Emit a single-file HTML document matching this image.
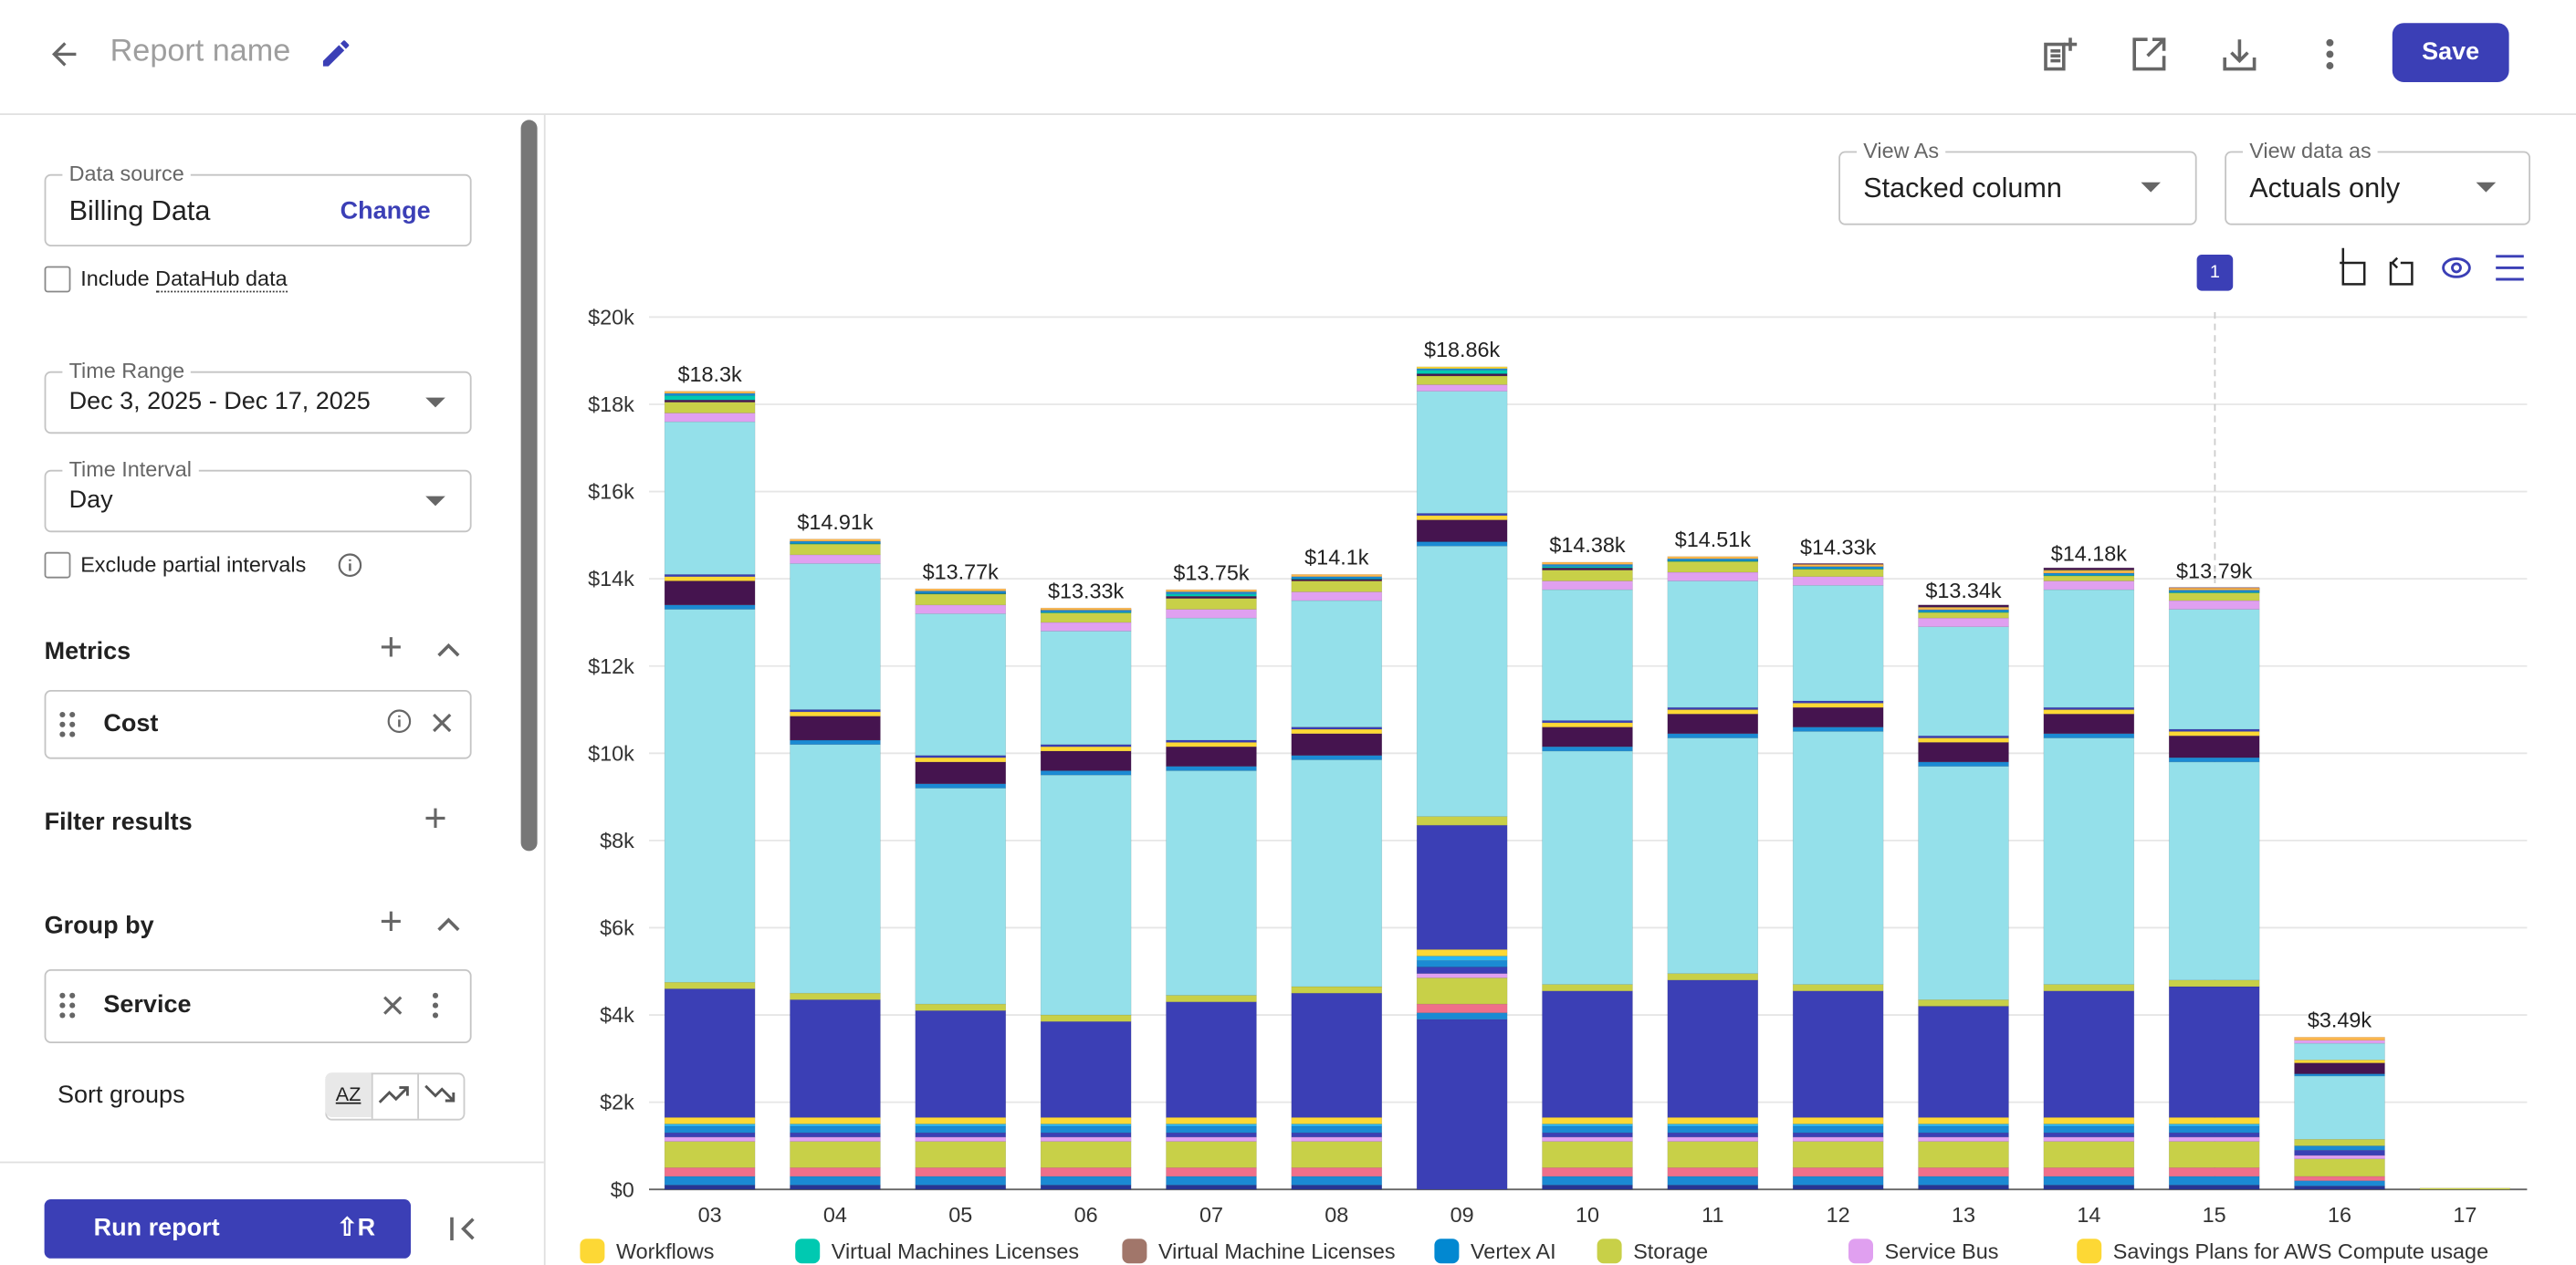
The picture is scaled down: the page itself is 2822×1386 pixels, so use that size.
<!DOCTYPE html>
<html><head><meta charset="utf-8">
<style>
html,body{margin:0;padding:0;background:#fff;}
body{width:2822px;height:1386px;overflow:hidden;font-family:"Liberation Sans",Arial,sans-serif;color:#212121;}
#w{position:absolute;left:0;top:0;width:1568px;height:770px;transform:scale(1.8);transform-origin:0 0;}
.a{position:absolute;}
.fld{position:absolute;border:1px solid #c4c4c4;border-radius:4px;}
.lbl{position:absolute;top:-9px;left:10px;background:#fff;padding:0 4px;font-size:13px;color:#666;}
.val{position:absolute;font-size:17px;color:#212121;}
.tri{position:absolute;width:0;height:0;border-left:6px solid transparent;border-right:6px solid transparent;border-top:6px solid #666;}
.cb{position:absolute;width:14px;height:14px;border:1.5px solid #888;border-radius:2px;}
.h{position:absolute;font-size:15px;font-weight:bold;color:#212121;}
.ico{position:absolute;color:#666;font-size:20px;line-height:20px;}
</style></head><body><div id="w">
<div class="a" style="left:0;top:69px;width:1568px;height:1px;background:#e0e0e0"></div>
<svg class="a" style="left:28px;top:22px" width="22" height="22" viewBox="0 0 24 24"><path d="M20 11H7.8l5.6-5.6L12 4l-8 8 8 8 1.4-1.4L7.8 13H20z" fill="#666"/></svg>
<div class="a" style="left:67px;top:21px;font-size:19px;color:#9e9e9e">Report name</div>
<svg class="a" style="left:194px;top:22px" width="21" height="21" viewBox="0 0 24 24"><path d="M3 17.25V21h3.75L17.8 9.94l-3.75-3.75zM20.7 7.04a1 1 0 000-1.41l-2.34-2.34a1 1 0 00-1.41 0l-1.83 1.83 3.75 3.75z" fill="#3b3fb6"/></svg>
<svg class="a" style="left:1241px;top:21px" width="24" height="24" viewBox="0 0 24 24"><path d="M4 6h11v15H4z" fill="none" stroke="#666" stroke-width="2"/><path d="M7 10h6M7 13h6M7 16h6M19 2v8M15 6h8" stroke="#666" stroke-width="2"/></svg>
<svg class="a" style="left:1296px;top:21px" width="24" height="24" viewBox="0 0 24 24"><path d="M11 3H3v18h18v-8M14 3h7v7M21 3l-10 10" fill="none" stroke="#666" stroke-width="2"/></svg>
<svg class="a" style="left:1351px;top:21px" width="24" height="24" viewBox="0 0 24 24"><path d="M3 14v7h18v-7M12 3v13M7 11l5 5 5-5" fill="none" stroke="#666" stroke-width="2"/></svg>
<svg class="a" style="left:1408px;top:21px" width="20" height="24" viewBox="0 0 20 24"><circle cx="10" cy="5" r="2.2" fill="#666"/><circle cx="10" cy="12" r="2.2" fill="#666"/><circle cx="10" cy="19" r="2.2" fill="#666"/></svg>
<div class="a" style="left:1456px;top:14px;width:71px;height:36px;background:#3b3fb6;border-radius:7px;color:#fff;font-size:15px;font-weight:bold;text-align:center;line-height:36px">Save</div>
<div class="a" style="left:331px;top:70px;width:1px;height:700px;background:#e0e0e0"></div>
<div class="a" style="left:317px;top:73px;width:10px;height:445px;background:#777;border-radius:5px"></div>
<div class="fld" style="left:27px;top:106px;width:258px;height:42px"><div class="lbl">Data source</div><div class="val" style="left:14px;top:12px">Billing Data</div><div class="val" style="left:179px;top:13px;font-size:15px;color:#3b3fb6;font-weight:bold">Change</div></div>
<div class="cb" style="left:27px;top:162px"></div>
<div class="a" style="left:49px;top:162px;font-size:13px">Include <span style="border-bottom:1px dotted #333">DataHub data</span></div>
<div class="fld" style="left:27px;top:226px;width:258px;height:36px"><div class="lbl">Time Range</div><div class="val" style="left:14px;top:9px;font-size:15px">Dec 3, 2025 - Dec 17, 2025</div><div class="tri" style="left:231px;top:15px"></div></div>
<div class="fld" style="left:27px;top:286px;width:258px;height:36px"><div class="lbl">Time Interval</div><div class="val" style="left:14px;top:9px;font-size:15px">Day</div><div class="tri" style="left:231px;top:15px"></div></div>
<div class="cb" style="left:27px;top:336px"></div>
<div class="a" style="left:49px;top:336px;font-size:13px">Exclude partial intervals</div>
<svg class="a" style="left:205px;top:336px" width="16" height="16" viewBox="0 0 16 16"><circle cx="8" cy="8" r="6.5" fill="none" stroke="#666" stroke-width="1.2"/><path d="M8 7v4.5M8 4.5v1" stroke="#666" stroke-width="1.4"/></svg>
<div class="h" style="left:27px;top:388px">Metrics</div>
<div class="ico" style="left:231px;top:385px;font-size:24px">+</div>
<svg class="a" style="left:265px;top:389px" width="16" height="14"><path d="M2 10l6-6 6 6" fill="none" stroke="#666" stroke-width="2"/></svg>
<div class="fld" style="left:27px;top:420px;width:258px;height:40px"></div>
<svg class="a" style="left:35px;top:432px" width="12" height="18"><g fill="#666"><circle cx="3" cy="3" r="1.7"/><circle cx="9" cy="3" r="1.7"/><circle cx="3" cy="9" r="1.7"/><circle cx="9" cy="9" r="1.7"/><circle cx="3" cy="15" r="1.7"/><circle cx="9" cy="15" r="1.7"/></g></svg>
<div class="h" style="left:63px;top:432px">Cost</div>
<svg class="a" style="left:235px;top:431px" width="16" height="16" viewBox="0 0 16 16"><circle cx="8" cy="8" r="6.5" fill="none" stroke="#666" stroke-width="1.2"/><path d="M8 7v4.5M8 4.5v1" stroke="#666" stroke-width="1.4"/></svg>
<svg class="a" style="left:262px;top:433px" width="14" height="14"><path d="M2 2l10 10M12 2L2 12" stroke="#666" stroke-width="1.8"/></svg>
<div class="h" style="left:27px;top:492px">Filter results</div>
<div class="ico" style="left:258px;top:489px;font-size:24px">+</div>
<div class="h" style="left:27px;top:555px">Group by</div>
<div class="ico" style="left:231px;top:552px;font-size:24px">+</div>
<svg class="a" style="left:265px;top:556px" width="16" height="14"><path d="M2 10l6-6 6 6" fill="none" stroke="#666" stroke-width="2"/></svg>
<div class="fld" style="left:27px;top:590px;width:258px;height:43px"></div>
<svg class="a" style="left:35px;top:603px" width="12" height="18"><g fill="#666"><circle cx="3" cy="3" r="1.7"/><circle cx="9" cy="3" r="1.7"/><circle cx="3" cy="9" r="1.7"/><circle cx="9" cy="9" r="1.7"/><circle cx="3" cy="15" r="1.7"/><circle cx="9" cy="15" r="1.7"/></g></svg>
<div class="h" style="left:63px;top:603px">Service</div>
<svg class="a" style="left:232px;top:605px" width="14" height="14"><path d="M2 2l10 10M12 2L2 12" stroke="#666" stroke-width="1.8"/></svg>
<svg class="a" style="left:261px;top:603px" width="8" height="18"><g fill="#666"><circle cx="4" cy="3" r="1.7"/><circle cx="4" cy="9" r="1.7"/><circle cx="4" cy="15" r="1.7"/></g></svg>
<div class="a" style="left:35px;top:658px;font-size:15px">Sort groups</div>
<div class="a" style="left:198px;top:653px;width:83px;height:27px;border:1px solid #ccc;border-radius:4px"></div>
<div class="a" style="left:198px;top:653px;width:28px;height:27px;background:#e8e8e8;border-radius:4px 0 0 4px;font-size:12px;line-height:27px;text-align:center;text-decoration:underline">AZ</div>
<div class="a" style="left:226px;top:653px;width:1px;height:28px;background:#ccc"></div>
<div class="a" style="left:254px;top:653px;width:1px;height:28px;background:#ccc"></div>
<svg class="a" style="left:230px;top:658px" width="20" height="16"><path d="M1 13l6-6 4 4 7-7M13 4h5v5" fill="none" stroke="#555" stroke-width="1.6"/></svg>
<svg class="a" style="left:258px;top:658px" width="20" height="16"><path d="M1 3l6 6 4-4 7 7M13 12h5V7" fill="none" stroke="#555" stroke-width="1.6"/></svg>
<div class="a" style="left:0;top:707px;width:331px;height:1px;background:#e0e0e0"></div>
<div class="a" style="left:27px;top:730px;width:223px;height:36px;background:#3b3fb6;border-radius:4px;color:#fff;font-size:15px;font-weight:bold;line-height:36px"><span style="margin-left:30px">Run report</span><span style="position:absolute;left:178px">⇧R</span></div>
<svg class="a" style="left:273px;top:740px" width="18" height="16"><path d="M2 1v14M15 2L9 8l6 6" fill="none" stroke="#666" stroke-width="2"/></svg>
<div class="fld" style="left:1119px;top:92px;width:216px;height:43px"><div class="lbl">View As</div><div class="val" style="left:14px;top:12px">Stacked column</div><div class="tri" style="left:183px;top:18px"></div></div>
<div class="fld" style="left:1354px;top:92px;width:184px;height:43px"><div class="lbl">View data as</div><div class="val" style="left:14px;top:12px">Actuals only</div><div class="tri" style="left:152px;top:18px"></div></div>
<div class="a" style="left:1337px;top:155px;width:22px;height:22px;background:#3b3fb6;border-radius:3px;color:#fff;font-size:11px;text-align:center;line-height:22px">1</div>
<svg class="a" style="left:1420px;top:150px" width="120" height="26"><g fill="none" stroke="#222" stroke-width="1.4"><path d="M6 4v19h13V10H4M6 1v5"/><path d="M37 10h-2v13h13V10h-7M39 7l-3 3 3 3"/></g><g fill="none" stroke="#3b3fb6" stroke-width="1.6"><ellipse cx="75" cy="13" rx="8" ry="5.5"/><circle cx="75" cy="13" r="2.5"/><path d="M99 6h17M99 13h17M99 20h17"/></g></svg>
<svg class="a" id="ch" style="left:0;top:0" width="1568" height="770"></svg>
</div>
<script>
var s=document.getElementById('ch'),h='';
function Y(v){return 724-v*26.55;}
var labs=['$0','$2k','$4k','$6k','$8k','$10k','$12k','$14k','$16k','$18k','$20k'];
for(var i=0;i<=10;i++){var y=Y(i*2);h+='<line x1="395" x2="1538" y1="'+y+'" y2="'+y+'" stroke="'+(i?'#e6e6e6':'#666')+'" stroke-width="1"/>';h+='<text x="386" y="'+(y+4.5)+'" text-anchor="end" font-size="13" fill="#333">'+labs[i]+'</text>';}
h+='<line x1="1348" x2="1348" y1="190" y2="722" stroke="#ccc" stroke-dasharray="4,3"/>';
var NV='#283593',BL='#1b8ad3',PK='#ef6f8a',OL='#c8d048',LV='#e0a0f0',IN='#3b3fb5',LB='#29b6f6',YL='#fdd835',CY='#94e0ea',DP='#45144f',TL='#00c9b1',OR='#ffb74d';
function gen(T,I,C1,D,C2){return [[0.1,NV],[0.3,BL],[0.5,PK],[1.1,OL],[1.2,LV],[1.3,IN],[1.45,BL],[1.5,LB],[1.65,YL],[I,IN],[I+0.15,OL],[C1,CY],[C1+0.1,BL],[D,DP],[D+0.1,YL],[D+0.15,IN],[C2,CY],[C2+0.2,LV],[C2+0.45,OL],[C2+0.5,DP],[T-0.1,TL],[T-0.05,BL],[T,OR]];}
var bars=[
['03',18.3,gen(18.3,4.6,13.3,13.95,17.6)],
['04',14.91,gen(14.91,4.35,10.2,10.85,14.35)],
['05',13.77,gen(13.77,4.1,9.2,9.8,13.2)],
['06',13.33,gen(13.33,3.85,9.5,10.05,12.8)],
['07',13.75,gen(13.75,4.3,9.6,10.15,13.1)],
['08',14.1,gen(14.1,4.5,9.85,10.45,13.5)],
['09',18.86,[[3.9,IN],[4.05,BL],[4.25,PK],[4.85,OL],[4.95,LV],[5.1,IN],[5.25,BL],[5.35,LB],[5.5,YL],[8.35,IN],[8.55,OL],[14.75,CY],[14.85,BL],[15.35,DP],[15.45,YL],[15.5,IN],[18.3,CY],[18.45,LV],[18.65,OL],[18.7,DP],[18.78,TL],[18.82,BL],[18.86,YL]]],
['10',14.38,gen(14.38,4.55,10.05,10.6,13.75)],
['11',14.51,gen(14.51,4.8,10.35,10.9,13.95)],
['12',14.33,gen(14.33,4.55,10.5,11.05,13.85)],
['13',13.34,gen(13.34,4.2,9.7,10.25,12.9)],
['14',14.18,gen(14.18,4.55,10.35,10.9,13.75)],
['15',13.79,gen(13.79,4.65,9.8,10.4,13.3)],
['16',3.49,[[0.08,NV],[0.2,BL],[0.3,PK],[0.7,OL],[0.78,LV],[0.9,IN],[1.0,BL],[1.15,OL],[2.6,CY],[2.65,BL],[2.9,DP],[2.97,YL],[3.35,CY],[3.42,LV],[3.49,OR]]],
['17',0.03,[[0.03,OL]]]];
for(var b=0;b<bars.length;b++){var cx=432+b*76.3,x=cx-27.5,prev=0,sg=bars[b][2];
for(var k=0;k<sg.length;k++){var t=sg[k][0];var y1=Y(t),y0=Y(prev);h+='<rect x="'+x+'" y="'+y1+'" width="55" height="'+Math.max(0.4,y0-y1)+'" fill="'+sg[k][1]+'" stroke="rgba(0,0,0,0.15)" stroke-width="0.3"/>';prev=t;}
if(b<14)h+='<text x="'+cx+'" y="'+(Y(bars[b][1])-6)+'" text-anchor="middle" font-size="13" fill="#222">$'+bars[b][1]+'k</text>';
h+='<text x="'+cx+'" y="744" text-anchor="middle" font-size="13" fill="#333">'+bars[b][0]+'</text>';}
var lg=[[356,YL,'Workflows'],[487,TL,'Virtual Machines Licenses'],[686,'#a1766a','Virtual Machine Licenses'],[876,'#0288d1','Vertex AI'],[975,OL,'Storage'],[1128,LV,'Service Bus'],[1267,YL,'Savings Plans for AWS Compute usage']];
for(var i=0;i<lg.length;i++){h+='<rect x="'+(lg[i][0]-3)+'" y="754" width="15" height="15" rx="4" fill="'+lg[i][1]+'"/><text x="'+(lg[i][0]+19)+'" y="766" font-size="13" fill="#333">'+lg[i][2]+'</text>';}
s.innerHTML=h;
</script>
</body></html>
